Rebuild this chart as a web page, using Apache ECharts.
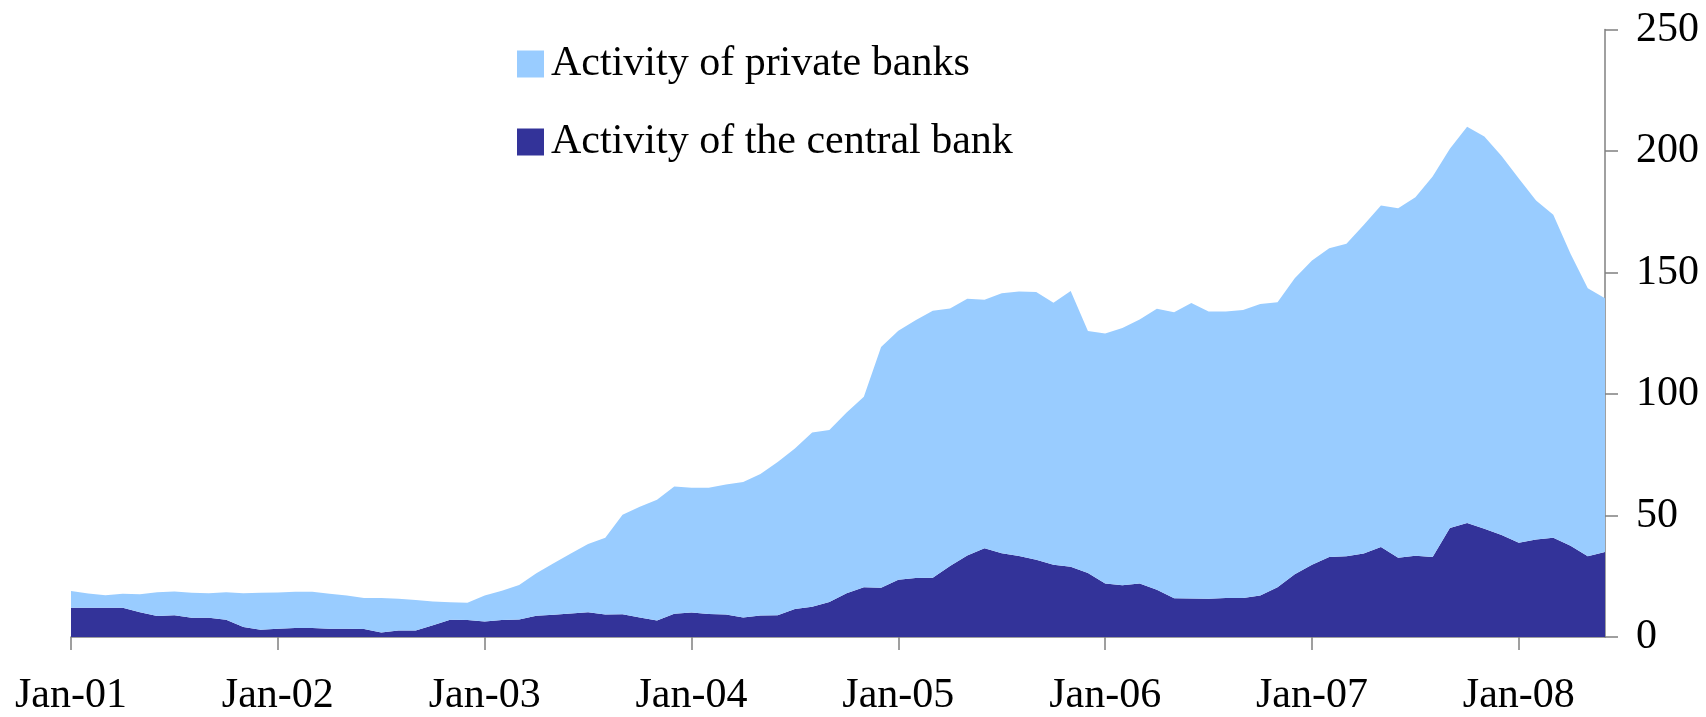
<!DOCTYPE html>
<html>
<head>
<meta charset="utf-8">
<script src="https://cdn.jsdelivr.net/npm/echarts@6/dist/echarts.min.js"></script>
<style>
  html, body { margin: 0; padding: 0; background: #fff; }
  #chart { width: 1706px; height: 717px; }
</style>
</head>
<body>
<div id="chart"></div>
<script>
// monthly, Jan-01 .. Jun-08
const monthNames = ['Jan', 'Feb', 'Mar', 'Apr', 'May', 'Jun', 'Jul', 'Aug', 'Sep', 'Oct', 'Nov', 'Dec']
const years = ['01', '02', '03', '04', '05', '06', '07', '08']
const categories = []
years.forEach(y => monthNames.forEach(m => categories.push(m + '-' + y)))
categories.length = 90

// upper edge of the chart (central bank + private banks)
const totalActivity = [
  18.9, 17.9, 17.2, 17.8, 17.6, 18.4, 18.7, 18.2, 18.0, 18.4, 18.0, 18.2,
  18.3, 18.6, 18.6, 17.8, 17.1, 16.0, 16.0, 15.7, 15.2, 14.6, 14.3, 14.1,
  17.1, 19.0, 21.4, 26.2, 30.3, 34.4, 38.3, 40.8, 50.3, 53.6, 56.5, 61.9,
  61.4, 61.4, 62.8, 63.8, 67.1, 72.0, 77.6, 84.2, 85.2, 92.4, 98.9, 119.3,
  126.0, 130.4, 134.3, 135.2, 139.2, 138.8, 141.5, 142.2, 142.0, 137.6, 142.4, 125.9,
  124.9, 127.2, 130.7, 135.1, 133.6, 137.4, 134.0, 134.0, 134.6, 137.0, 137.8, 147.6,
  154.9, 160.0, 161.8, 169.5, 177.6, 176.4, 181.0, 189.5, 200.9, 210.0, 206.0, 197.9,
  188.7, 179.6, 173.8, 157.7, 143.5, 139.4
]

const centralBank = [
  12.0, 12.0, 12.0, 12.0, 10.2, 8.6, 8.9, 7.9, 7.9, 7.1, 4.1, 3.0,
  3.4, 3.7, 3.7, 3.4, 3.4, 3.3, 1.9, 2.7, 2.7, 4.8, 7.1, 7.0,
  6.4, 7.0, 7.2, 8.7, 9.2, 9.7, 10.2, 9.3, 9.4, 8.0, 6.8, 9.6,
  10.1, 9.5, 9.3, 8.0, 8.8, 8.9, 11.5, 12.5, 14.4, 18.0, 20.5, 20.3,
  23.6, 24.3, 24.4, 29.2, 33.5, 36.5, 34.5, 33.3, 31.8, 29.7, 28.9, 26.3,
  22.0, 21.3, 22.0, 19.4, 15.9, 15.8, 15.7, 16.1, 16.0, 17.1, 20.5, 25.8,
  29.7, 32.9, 33.2, 34.4, 37.0, 32.6, 33.4, 32.9, 44.9, 46.9, 44.5, 42.0,
  38.8, 40.1, 40.8, 37.6, 33.2, 35.0
]

const yTicks = [0, 50, 100, 150, 200, 250]

const privateBanks = totalActivity.map((v, i) => +(v - centralBank[i]).toFixed(1))

const font = 'Liberation Serif, Times New Roman, serif'
const isJan = (i) => i % 12 === 0

let myChart = echarts.init(document.getElementById('chart'))
let option = {
  animation: false,
  backgroundColor: '#fff',
  grid: {
    left: 71,
    right: 101,
    top: 29.5,
    bottom: 70,
    containLabel: false
  },
  legend: {
    orient: 'vertical',
    left: 512,
    top: 38,
    icon: 'rect',
    itemWidth: 27,
    itemHeight: 27,
    itemGap: 36,
    data: ['Activity of private banks', 'Activity of the central bank'],
    textStyle: {
      fontFamily: font,
      fontSize: 42,
      color: '#000',
      lineHeight: 42,
      padding: [0, 0, 0, 2]
    }
  },
  xAxis: {
    type: 'category',
    boundaryGap: false,
    data: categories,
    axisLine: { lineStyle: { color: '#808080', width: 1.5 } },
    axisTick: { interval: isJan, length: 13, lineStyle: { color: '#808080', width: 1.5 } },
    axisLabel: {
      interval: isJan,
      margin: 38,
      fontFamily: font,
      fontSize: 42,
      color: '#000'
    },
    splitLine: { show: false }
  },
  yAxis: {
    type: 'value',
    position: 'right',
    min: yTicks[0],
    max: yTicks[yTicks.length - 1],
    interval: 50,
    axisLine: { show: true, lineStyle: { color: '#808080', width: 1.5 } },
    axisTick: { show: true, length: 13, lineStyle: { color: '#808080', width: 1.5 } },
    axisLabel: {
      margin: 31,
      fontFamily: font,
      fontSize: 42,
      color: '#000'
    },
    splitLine: { show: false }
  },
  series: [
    {
      name: 'Activity of the central bank',
      type: 'line',
      stack: 'Total',
      data: centralBank,
      showSymbol: false,
      lineStyle: { width: 0 },
      itemStyle: { color: '#333399' },
      areaStyle: { color: '#333399', opacity: 1 }
    },
    {
      name: 'Activity of private banks',
      type: 'line',
      stack: 'Total',
      data: privateBanks,
      showSymbol: false,
      lineStyle: { width: 0 },
      itemStyle: { color: '#99CCFF' },
      areaStyle: { color: '#99CCFF', opacity: 1 }
    }
  ]
}

option && myChart.setOption(option)
</script>
</body>
</html>
